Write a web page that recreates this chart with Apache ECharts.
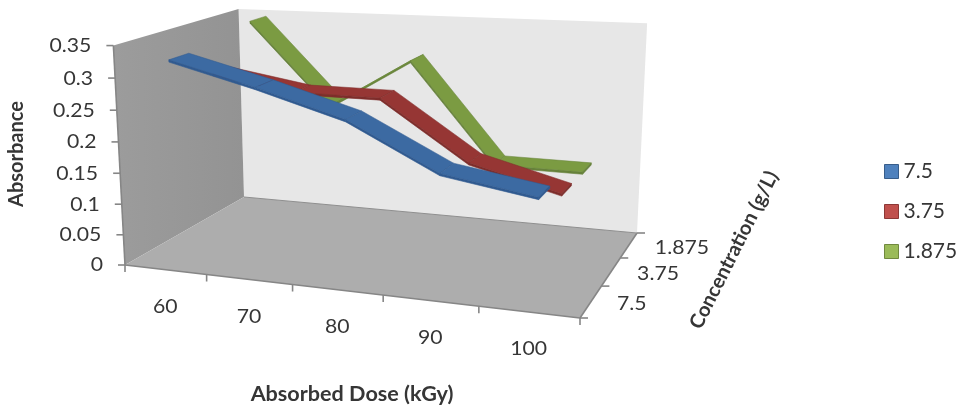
<!DOCTYPE html>
<html><head><meta charset="utf-8">
<style>html,body{margin:0;padding:0;background:#fff}#c{width:959px;height:411px}</style>
<script src="https://cdn.jsdelivr.net/npm/echarts@6/dist/echarts.min.js"></script>
</head><body><div id="c"></div>
<script>
const doses = ['60','70','80','90','100'];
const concentrations = ['7.5','3.75','1.875'];
const absorbanceTicks = ['0','0.05','0.1','0.15','0.2','0.25','0.3','0.35'];
const values75 = [0.325,0.29,0.25,0.18,0.157];
const values375 = [0.279,0.256,0.255,0.162,0.125];
const values1875 = [0.345,0.205,0.29,0.125,0.124];

const AXIS_MAX = 0.35, FONT = 'Lato, "Open Sans", sans-serif', TEXT = '#363636', LINE = '#868686';
const HALF = 0.075, THICK = 0.01;

// Frame of the 3-D box on the page (layout, not data)
const FL=[125,265],FR=[580,318],BR=[637,233],BL=[244,197];
const TFL=[113,42],TBL=[239,7],TBR=[647,29];

const sx=FL[0]-FR[0]+BR[0]-BL[0], sy=FL[1]-FR[1]+BR[1]-BL[1];
const d1x=FR[0]-BR[0], d2x=BL[0]-BR[0], d1y=FR[1]-BR[1], d2y=BL[1]-BR[1];
const den=d1x*d2y-d2x*d1y;
const g=(sx*d2y-d2x*sy)/den, h=(d1x*sy-sx*d1y)/den;
const a=FR[0]-FL[0]+g*FR[0], b=BL[0]-FL[0]+h*BL[0], d=FR[1]-FL[1]+g*FR[1], e=BL[1]-FL[1]+h*BL[1];
function fitHeight(){
  const pts=[[0,0,TFL],[0,1,TBL],[1,1,TBR]].map(([u,v,p])=>{
    const w=g*u+h*v+1; return {x:p[0],y:p[1],rx:p[0]*w-(a*u+b*v+FL[0]),ry:p[1]*w-(d*u+e*v+FL[1])};});
  const m=k=>pts.reduce((s,p)=>s+p[k],0)/pts.length;
  const mx=m('x'),my=m('y'),mrx=m('rx'),mry=m('ry');
  let n=0,q=0; pts.forEach(p=>{n+=(p.x-mx)*(p.rx-mrx)+(p.y-my)*(p.ry-mry);q+=(p.x-mx)**2+(p.y-my)**2;});
  const k=-n/q; return {k,cx:mrx+mx*k,cy:mry+my*k};
}
const H=fitHeight();
// u: 0..1 along dose, v: 0..1 into depth, z: 0..1 up
function project(u,v,z){
  const w=g*u+h*v+1+H.k*z;
  return [(a*u+b*v+FL[0]+H.cx*z)/w,(d*u+e*v+FL[1]+H.cy*z)/w];
}
const uOf=i=>(i+0.5)/doses.length, vOf=i=>(i+0.5)/concentrations.length;

function poly(api,pts,fill,stroke,lw){
  return {type:'polygon',shape:{points:pts.map(p=>api.coord(p))},
    style:{fill:fill,stroke:stroke||fill,lineWidth:lw===undefined?0.6:lw}};
}
function label(api,p,text,opt){
  const c=api.coord(p); opt=opt||{};
  return {type:'text',x:c[0],y:c[1],rotation:opt.rot||0,scaleX:opt.sx||1,
    style:{text:text,fill:TEXT,font:(opt.weight?opt.weight+' ':'')+(opt.size||20)+'px '+FONT,
      textAlign:opt.align||'center',textVerticalAlign:'middle'}};
}
function tick(api,p,q){
  return {type:'line',shape:{x1:api.coord(p)[0],y1:api.coord(p)[1],x2:api.coord(q)[0],y2:api.coord(q)[1]},
    style:{stroke:LINE,lineWidth:1.6}};
}
function renderFrame(params,api){
  const ch=[];
  ch.push(poly(api,[project(0,1,0),project(1,1,0),project(1,1,1),project(0,1,1)],'#e7e7e7','#e7e7e7',0));
  ch.push({type:'polygon',shape:{points:[project(0,0,0),project(0,1,0),project(0,1,1),project(0,0,1)].map(p=>api.coord(p))},
    style:{fill:{type:'linear',x:0,y:0,x2:1,y2:0,colorStops:[{offset:0,color:'#9c9c9c'},{offset:1,color:'#939393'}]}}});
  ch.push(poly(api,[project(0,0,0),project(1,0,0),project(1,1,0),project(0,1,0)],'#adadad','#adadad',0));
  ch.push(tick(api,project(0,0,0),project(1,0,0)));
  ch.push(tick(api,project(1,0,0),project(1,1,0)));
  ch.push(tick(api,project(0,0,0),project(0,0,1)));
  ch.push({type:'line',shape:{x1:api.coord(project(0,1,0))[0],y1:api.coord(project(0,1,0))[1],x2:api.coord(project(1,1,0))[0],y2:api.coord(project(1,1,0))[1]},style:{stroke:'#8f8f8f',lineWidth:1}});
  absorbanceTicks.forEach((t,i)=>{
    const z=i/(absorbanceTicks.length-1), p=project(0,0,z);
    ch.push(tick(api,p,[p[0]-7,p[1]]));
    ch.push(label(api,[p[0]-22,p[1]],t,{align:'right',sx:1.06}));
  });
  for(let i=0;i<=doses.length;i++){ const p=project(i/doses.length,0,0); ch.push(tick(api,p,[p[0],p[1]+7])); }
  doses.forEach((t,i)=>{ const p=project(uOf(i),0,0); ch.push(label(api,[p[0],p[1]+37],t,{sx:1.06})); });
  for(let i=0;i<=concentrations.length;i++){ const p=project(1,i/concentrations.length,0); ch.push(tick(api,p,[p[0]+8,p[1]])); }
  concentrations.forEach((t,i)=>{ const p=project(1,vOf(i),0); ch.push(label(api,[p[0]+26,p[1]+2],t,{align:'left',sx:1.06})); });
  ch.push(label(api,[17,154],'Absorbance',{rot:Math.PI/2,size:20,weight:'bold',sx:1.0}));
  ch.push(label(api,[352,395],'Absorbed Dose (kGy)',{size:20,weight:'bold',sx:1.08}));
  ch.push(label(api,[734,250],'Concentration (g/L)',{rot:Math.PI*0.352,size:20,weight:'bold',sx:1.0}));
  return {type:'group',children:ch};
}
function ribbon(top,side,vIndex){
  return function(params,api){
    const i=api.value(0), y0=api.value(1), y1=api.value(2);
    const n=doses.length, v=vOf(vIndex), u0=uOf(i), ch=[];
    const z0=y0/AXIS_MAX;
    if(i<n-1){
      const u1=uOf(i+1), z1=y1/AXIS_MAX;
      ch.push(poly(api,[project(u0,v-HALF,z0),project(u1,v-HALF,z1),project(u1,v-HALF,z1-THICK),project(u0,v-HALF,z0-THICK)],side));
      ch.push(poly(api,[project(u0,v-HALF,z0),project(u1,v-HALF,z1),project(u1,v+HALF,z1),project(u0,v+HALF,z0)],top,side,0.5));
    } else {
      ch.push(poly(api,[project(u0,v-HALF,z0),project(u0,v+HALF,z0),project(u0,v+HALF,z0-THICK),project(u0,v-HALF,z0-THICK)],side));
    }
    return {type:'group',children:ch};
  };
}
const rows=vals=>vals.map((y,i)=>[i,y,i<vals.length-1?vals[i+1]:y]);
const ribbonSeries=(name,vals,vi,top,side)=>({
  type:'custom',name:name,coordinateSystem:'cartesian2d',data:rows(vals),silent:true,
  renderItem:ribbon(top,side,vi),itemStyle:{color:top},encode:{x:0,y:1},clip:false,animation:false,z:3
});
const chart=echarts.init(document.getElementById('c'),null,{renderer:'canvas'});
chart.setOption({
  animation:false,backgroundColor:'#fff',
  grid:{left:0,top:0,width:959,height:411,containLabel:false},
  xAxis:{type:'value',min:0,max:959,show:false},
  yAxis:{type:'value',min:0,max:411,inverse:true,show:false},
  legend:{orient:'vertical',left:884,top:161,padding:0,itemWidth:14,itemHeight:14,itemGap:19,
    icon:'rect',selectedMode:false,
    textStyle:{fontFamily:FONT,fontSize:21,color:TEXT,lineHeight:14},
    data:[
      {name:'7.5',itemStyle:{color:'#4f81bd',borderColor:'#385d8a',borderWidth:1}},
      {name:'3.75',itemStyle:{color:'#c0504d',borderColor:'#8c3836',borderWidth:1}},
      {name:'1.875',itemStyle:{color:'#9bbb59',borderColor:'#71893f',borderWidth:1}}
    ]},
  series:[
    {type:'custom',coordinateSystem:'cartesian2d',data:[[0,0]],renderItem:renderFrame,silent:true,clip:false,z:1},
    ribbonSeries('1.875',values1875,2,'#7b9b42','#66823a'),
    ribbonSeries('3.75',values375,1,'#963634','#7e2d2b'),
    ribbonSeries('7.5',values75,0,'#3c6aa2','#305a90')
  ]
});
</script></body></html>
